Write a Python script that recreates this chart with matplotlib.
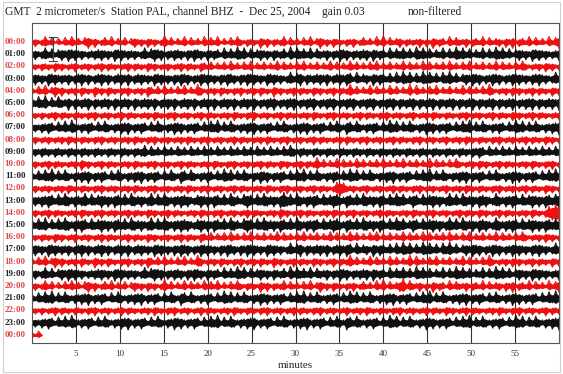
import numpy as np
import matplotlib.pyplot as plt
from matplotlib.patches import Rectangle

# helicorder rows: hour labels and trace envelope (one digit per 22.5 s sample)
hour_labels = ['%02d:00' % h for h in range(24)] + ['00:00']
row_colors = ['#ee1111' if i % 2 == 0 else '#111111' for i in range(25)]

trace_amp = [
    "3524635142 5363425736 2453624351 4635263524 7352436253 4263536242 5364253427 3625346253 4253624735 2634253624 5342637253 4625343625 2735426354 3625436253 4526372543 6253426357",
    "4635746357 4857463546 5746385746 4635746857 3647563748 5637465374 6485736457 4637456384 7564736547 3648573646 5738465374 6574638574 6354736485 7463547364 8574635746 3857463547",
    "3425342635 2436243524 3625342436 2534263524 3524362534 2643524352 6342536243 5243625342 5362435243 6252436352 4253624352 4362534263 5243526342 5362435243 6253425364 2435263524",
    "5746385746 4736584736 5847365748 3657463857 4637485736 4857463748 5637485746 3857463574 6837465748 3657486374 5638475463 7485736485 7463758463 5748573648 5736485746 3758463574",
    "4253624736 2435263427 3526342536 2435274352 6342536243 7524352634 2536243526 3427352436 2534263524 3625347352 4362534263 5243726342 5362435243 6253425374 2435263524 3625342635",
    "6475836475 4837465837 4657384657 3846574836 5748365748 3657483657 4836574836 4758364758 3647583647 5836475836 4758364758 3746583746 5837465837 4658374658 3746583647 5837465748",
    "3425243625 3425342536 2435243625 3424352634 2536243524 3625342435 2634253624 3524362534 2435263425 3624352436 2534253624 3524362435 2634253425 3624352436 2534263524 3625342435",
    "4536475364 7485364753 6475364758 3647536475 3648573647 5364758364 7536475836 4753647536 4758364753 6475386475 3647536485 7364753648 5736475364 7583647536 4753648573 6475364758",
    "3524352435 2634253425 3624352435 2634253624 3524352634 2536243524 3625342435 2634253624 3524362534 2435263425 3624352436 2534253624 3524362435 2634253425 3624352436 2534263524",
    "4536453645 3645364536 4536453645 3645736453 6453645364 5364536453 6453645364 5364536475 3645364536 4536453645 3645364536 4536453645 3645364536 4536475364 5364536453 6453645364",
    "3524362534 2435273524 3625342435 2634253624 3524362534 2435263425 3624352436 2534263524 3625347352 4362534263 5243526342 5362435243 6253425364 2435263524 3625342435 2634253624",
    "5364758364 7536475836 4753647536 4758364753 6475386475 3647536485 7364753648 5736475364 7583647536 4753648573 6475364758 3647536475 8364753647 5836475364 7536485736 4753647584",
    "3524352435 2634253425 3624352435 2634253624 3524352634 2536243524 3625342435 2634253624 3524362534 2478643524 3624352436 2534253624 3524362435 2634253425 3624352436 2534263524",
    "5647586475 8647568475 6857486574 8657468475 8647586745 6857486574 8654786475 8657489674 8647586475 6875486574 8657486475 8674586475 6857468574 8657486745 8647586475 6857486578",
    "3524362534 2435263425 3624352436 2534263524 3625342435 2634253624 3524362534 2435273524 3625342435 2634253624 3524362534 2435263425 3624352436 2534263524 3625342435 2634257899",
    "6475836475 8647586475 6857486574 8657468475 8647586745 6857486574 8654786475 8657486574 8647586475 6875486574 8657486475 8674586475 6857468574 8657486745 8647586475 6857486575",
    "3425342635 2436243524 3625342436 2534263524 3524362534 2643524352 6342536243 5243625342 5362435243 6252436352 4253624352 4362534263 5243526342 5362435243 6253425364 2435263524",
    "5746385746 4736584736 5847365748 3657463857 4637485736 4857463748 5637485746 3857463574 6837465748 3657486374 5638475463 7485736485 7463758463 5748573648 5736485746 3758463574",
    "4253624736 2435263427 3526342536 2435274352 6342536243 7524352634 2536243526 3427352436 2534263524 3625347352 4362534263 5243726342 5362435243 6253425374 2435263524 3625342635",
    "4635746357 4857463546 5746385746 4635746857 3647563748 5637465374 6485736457 4637456384 7564736547 3648573646 5738465374 6574638574 6354736485 7463547364 8574635746 3857463547",
    "3524635142 5363425736 2453624351 4635263524 7352436253 4263536242 5364253427 3625346253 4253624735 2634253624 5342637253 4683643625 2735426354 3625436253 4526372543 6253426357",
    "5364758364 7536475836 4753647536 4758364753 6475386475 3647536485 7364753648 5736475364 7583647536 4753648573 6475364758 3647536475 8364753647 5836475364 7536485736 4753647584",
    "3425243625 3425342536 2435243625 3424352634 2536243524 3625342435 2634253425 3624352436 2534253624 3524362435 2634253425 3624352436 2534263524 3625342435 2634253624 3524362534",
    "4536475364 7485364753 6475364758 3647536475 3648573647 5364758364 7536475836 4753647536 4758364753 6475386475 3647536485 7364753648 5736475364 7583647536 4753648573 6475364758",
    "3241",
]

minute_ticks = [5, 10, 15, 20, 25, 30, 35, 40, 45, 50, 55]

fig = plt.figure(figsize=(5.63, 3.74), dpi=100)
ax = fig.add_axes([32 / 563, 1 - 343 / 374, 527 / 563, 320 / 374])

step = 60 / 159
scale = 0.075
for i, s in enumerate(trace_amp):
    a = np.array([int(c) for c in s.replace(' ', '')]) * scale
    x = np.arange(len(a)) * step
    y0 = -i
    # solid core of the trace plus a wiggle reaching the sample amplitude
    ax.fill_between(x, y0 - 0.72 * a, y0 + 0.72 * a, color=row_colors[i],
                    lw=0, zorder=2)
    sign = np.where(np.arange(len(a)) % 2 == 0, 1, -1)
    ax.plot(x, y0 + sign * a, color=row_colors[i], lw=0.8, zorder=2)
    ax.text(-0.75, y0, hour_labels[i], ha='right', va='center', fontsize=6.5,
            family='Liberation Serif', fontweight='bold',
            color='#e04848' if i % 2 == 0 else '#222222', clip_on=False)

# scale bar near the start of the first row
ax.plot([2.4, 2.4], [0.41, -1.56], color='#444444', lw=0.8, zorder=3)
ax.plot([1.95, 2.85], [0.41, 0.41], color='#444444', lw=0.8, zorder=3)
ax.plot([1.95, 2.85], [-1.56, -1.56], color='#444444', lw=0.8, zorder=3)

for m in minute_ticks:
    ax.axvline(m, color='#333333', lw=0.8, zorder=1)

ax.set_xlim(0, 60)
ax.set_ylim(-24.67, 1.56)
ax.set_yticks([])
ax.set_xticks(minute_ticks)
ax.set_xticklabels([str(m) for m in minute_ticks], family='Liberation Serif',
                   fontsize=6.5, color='#333333')
ax.tick_params(axis='x', length=0, pad=5)
ax.set_xlabel('minutes', family='Liberation Serif', fontsize=8, labelpad=2,
              color='#222222')
for sp in ax.spines.values():
    sp.set_color('#555555')
    sp.set_linewidth(0.8)

fig.text(5 / 563, 1 - 12 / 374,
         'GMT  2 micrometer/s  Station PAL, channel BHZ  -  Dec 25, 2004',
         family='Liberation Serif', fontsize=8.3, va='center', color='#222222')
fig.text(322 / 563, 1 - 12 / 374, 'gain 0.03', family='Liberation Serif',
         fontsize=8.3, va='center', color='#222222')
fig.text(408 / 563, 1 - 12 / 374, 'non-filtered', family='Liberation Serif',
         fontsize=8.3, va='center', color='#222222')

fig.patches.append(Rectangle((3 / 563, 2 / 374), 557 / 563, 370 / 374,
                             transform=fig.transFigure, fill=False,
                             edgecolor='#d0d0d0', lw=0.8))

fig.savefig('out.png', dpi=100)
